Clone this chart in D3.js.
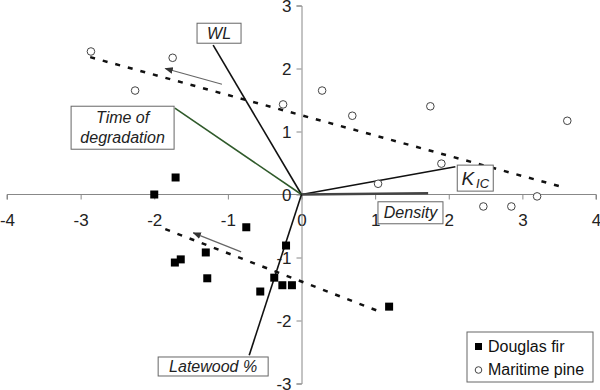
<!DOCTYPE html>
<html>
<head>
<meta charset="utf-8">
<script src="https://cdn.jsdelivr.net/npm/d3@7"></script>
<style>
  body { margin: 0; background: #fff; }
  text { font-family: "Liberation Sans", Arial, sans-serif; }
</style>
</head>
<body>
<div id="container"></div>
<script>
// data
let xTicks = [-4, -3, -2, -1, 0, 1, 2, 3, 4];
let yTicks = [-3, -2, -1, 0, 1, 2, 3];

let douglasFir = [
  [-2.00, 0.00], [-1.71, 0.27], [-0.75, -0.52], [-0.21, -0.81], [-1.30, -0.92],
  [-1.72, -1.08], [-1.64, -1.03], [-1.28, -1.33], [-0.37, -1.32], [-0.26, -1.44],
  [-0.13, -1.44], [-0.56, -1.54], [1.19, -1.78]
];
let maritimePine = [
  [-2.86, 2.27], [-1.75, 2.17], [-2.26, 1.65], [-0.25, 1.43], [0.28, 1.65],
  [0.69, 1.25], [1.75, 1.40], [3.61, 1.17], [1.90, 0.49], [1.04, 0.17],
  [3.20, -0.03], [2.47, -0.19], [2.85, -0.19]
];

// trend lines (dotted)
let trendMP = [[-2.87, 2.18], [3.54, 0.12]];
let trendDF = [[-1.85, -0.55], [1.11, -1.88]];

// small gray arrows
let arrows = [
  [[-1.08, 1.75], [-1.85, 2.00]],
  [[-0.82, -0.91], [-1.47, -0.61]]
];

// loading vectors: end point, label box centre, box size
let vectors = [
  { name: "WL", x: -1.20, y: 2.37, lx: -1.12, ly: 2.56, w: 44, h: 20, color: "#111" },
  { name: "Time of|degradation", x: -1.72, y: 1.37, lx: -2.43, ly: 1.06, w: 103, h: 43, color: "#2f5a2a" },
  { name: "KIC", x: 2.09, y: 0.44, lx: 2.36, ly: 0.26, w: 36, h: 26, color: "#111" },
  { name: "Density", x: 1.72, y: 0.02, lx: 1.48, ly: -0.29, w: 65, h: 22, color: "#444" },
  { name: "Latewood %", x: -0.71, y: -2.55, lx: -1.20, ly: -2.73, w: 110, h: 19, color: "#111" }
];

let width = 600, height = 390;

let svg = d3.select("#container").append("svg")
  .attr("width", width).attr("height", height);

let x = d3.scaleLinear().domain([-4, 4]).range([7, 596]);
let y = d3.scaleLinear().domain([-3, 3]).range([383.5, 5.5]);

svg.append("defs").append("marker")
  .attr("id", "ah")
  .attr("viewBox", "0 0 10 10")
  .attr("refX", 9).attr("refY", 5)
  .attr("markerWidth", 7).attr("markerHeight", 7)
  .attr("orient", "auto")
  .append("path").attr("d", "M0,1 L10,5 L0,9 z").attr("fill", "#333");

// axes through the origin
let gx = svg.append("g").attr("transform", `translate(0,${y(0)})`)
  .call(d3.axisBottom(x).tickValues(xTicks).tickSize(5).tickPadding(14).tickFormat(d => String(d)));
let gy = svg.append("g").attr("transform", `translate(${x(0)},0)`)
  .call(d3.axisLeft(y).tickValues(yTicks).tickSize(5).tickPadding(5).tickFormat(d => String(d)));

[gx, gy].forEach(g => {
  g.select(".domain").attr("stroke", "#888");
  g.selectAll(".tick line").attr("stroke", "#888");
  g.selectAll(".tick text")
    .attr("fill", "#222")
    .style("font-size", "17px")
    .style("font-family", "'Liberation Sans', Arial, sans-serif");
});
gx.selectAll(".domain").attr("d", `M${x(-4)},5V0H${x(4)}V5`);
gy.selectAll(".tick text").attr("dy", "0.34em");

let line = d3.line().x(d => x(d[0])).y(d => y(d[1]));

// trend lines
[trendMP, trendDF].forEach(t => {
  svg.append("path")
    .attr("d", line(t))
    .attr("fill", "none")
    .attr("stroke", "#111")
    .attr("stroke-width", 2.5)
    .attr("stroke-dasharray", "5,8");
});

// arrows
arrows.forEach(a => {
  svg.append("path")
    .attr("d", line(a))
    .attr("stroke", "#666")
    .attr("stroke-width", 1.2)
    .attr("marker-end", "url(#ah)");
});

// vectors
svg.selectAll(".vec").data(vectors).join("line")
  .attr("class", "vec")
  .attr("x1", x(0)).attr("y1", y(0))
  .attr("x2", d => x(d.x)).attr("y2", d => y(d.y))
  .attr("stroke", d => d.color)
  .attr("stroke-width", d => d.name == "Density" ? 2.5 : 1.6);

// points
svg.selectAll(".mp").data(maritimePine).join("circle")
  .attr("class", "mp")
  .attr("cx", d => x(d[0])).attr("cy", d => y(d[1]))
  .attr("r", 3.8)
  .attr("fill", "#fff").attr("stroke", "#444").attr("stroke-width", 1);

svg.selectAll(".df").data(douglasFir).join("rect")
  .attr("class", "df")
  .attr("x", d => x(d[0]) - 4).attr("y", d => y(d[1]) - 4)
  .attr("width", 8).attr("height", 8)
  .attr("fill", "#000");

// label boxes
let lab = svg.selectAll(".lab").data(vectors).join("g")
  .attr("class", "lab")
  .attr("transform", d => `translate(${x(d.lx)},${y(d.ly)})`);

lab.append("rect")
  .attr("x", d => -d.w / 2).attr("y", d => -d.h / 2)
  .attr("width", d => d.w).attr("height", d => d.h)
  .attr("fill", "#fff").attr("stroke", "#666").attr("stroke-width", 1);

lab.each(function (d) {
  let g = d3.select(this);
  if (d.name == "KIC") {
    let t = g.append("text")
      .attr("text-anchor", "middle")
      .attr("y", 7)
      .style("font-size", "19px")
      .style("font-style", "italic")
      .attr("fill", "#222");
    t.append("tspan").text("K");
    t.append("tspan").attr("dx", 2).attr("dy", 3).style("font-size", "13px").text("IC");
    return;
  }
  let parts = d.name.split("|");
  parts.forEach((p, i) => {
    g.append("text")
      .attr("text-anchor", "middle")
      .attr("y", (i - (parts.length - 1) / 2) * 20 + 5.5)
      .style("font-size", "16px")
      .style("font-style", "italic")
      .attr("fill", "#222")
      .text(p);
  });
});

// legend
let lg = svg.append("g").attr("transform", "translate(467,332)");
lg.append("rect")
  .attr("width", 126).attr("height", 50)
  .attr("fill", "#fff").attr("stroke", "#666");
lg.append("rect").attr("x", 8).attr("y", 11).attr("width", 7).attr("height", 7).attr("fill", "#000");
lg.append("circle").attr("cx", 11.5).attr("cy", 38).attr("r", 3.3)
  .attr("fill", "#fff").attr("stroke", "#444");
lg.append("text").attr("x", 21).attr("y", 20).style("font-size", "16px").attr("fill", "#111").text("Douglas fir");
lg.append("text").attr("x", 21).attr("y", 43).style("font-size", "16px").attr("fill", "#111").text("Maritime pine");
</script>
</body>
</html>
